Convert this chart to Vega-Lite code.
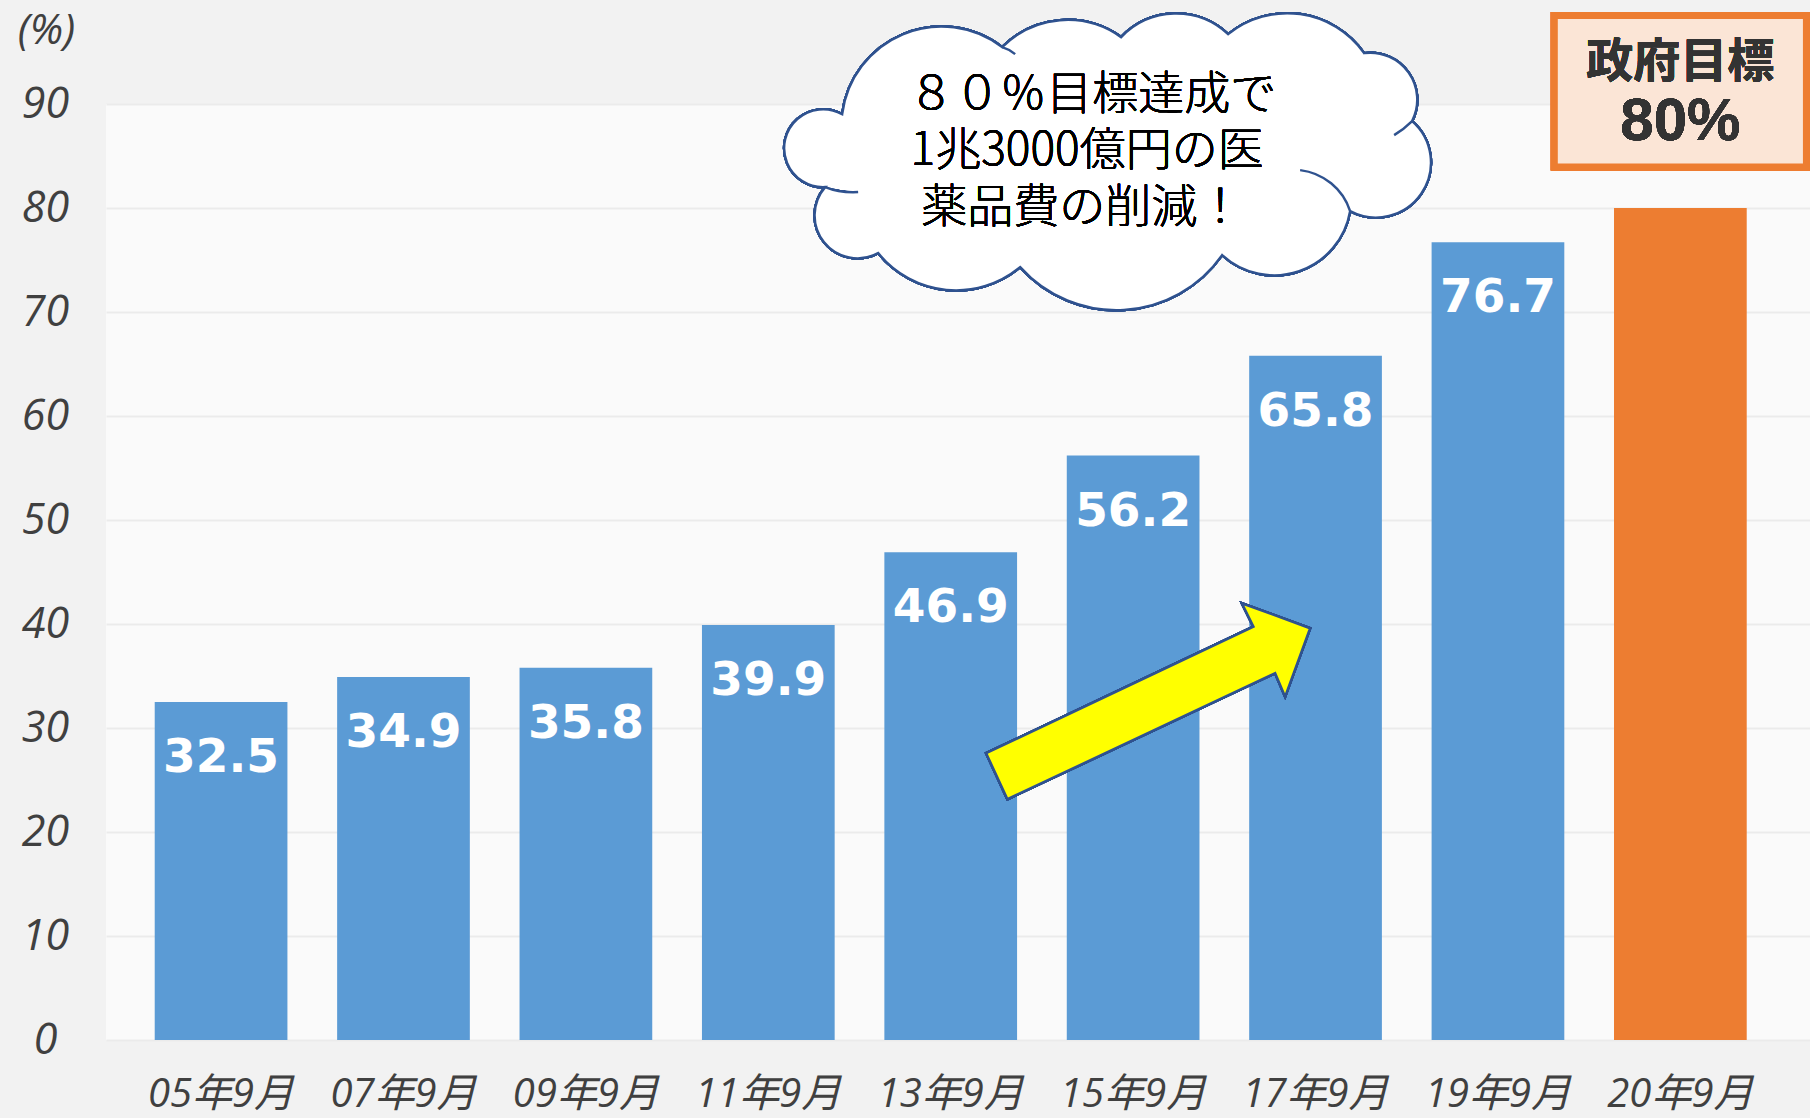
{
  "$schema": "https://vega.github.io/schema/vega-lite/v6.json",
  "width": 1704,
  "height": 936,
  "autosize": {"type": "none"},
  "padding": {"left": 106, "top": 104, "right": 0, "bottom": 78},
  "background": "#F2F2F2",
  "config": {"view": {"stroke": null, "fill": "#FAFAFA"}},
  "data": {
    "values": [
      {"period": "05年9月", "rate": 32.5, "kind": "実績"},
      {"period": "07年9月", "rate": 34.9, "kind": "実績"},
      {"period": "09年9月", "rate": 35.8, "kind": "実績"},
      {"period": "11年9月", "rate": 39.9, "kind": "実績"},
      {"period": "13年9月", "rate": 46.9, "kind": "実績"},
      {"period": "15年9月", "rate": 56.2, "kind": "実績"},
      {"period": "17年9月", "rate": 65.8, "kind": "実績"},
      {"period": "19年9月", "rate": 76.7, "kind": "実績"},
      {"period": "20年9月", "rate": 80, "kind": "目標"}
    ]
  },
  "layer": [
    {
      "mark": {"type": "bar"},
      "encoding": {
        "x": {
          "field": "period", "type": "nominal",
          "scale": {"domain": ["05年9月","07年9月","09年9月","11年9月","13年9月","15年9月","17年9月","19年9月","20年9月"], "paddingInner": 0.2725, "paddingOuter": 0.307, "align": 0.435},
          "axis": {"title": null, "domain": false, "ticks": false, "tickSize": 0, "grid": false, "labelAngle": 0, "labelFont": "Open Sans, Noto Sans CJK JP", "labelFontStyle": "italic", "labelFontSize": 40, "labelColor": "#404040", "labelPadding": 54, "labelBaseline": "middle"}
        },
        "y": {
          "field": "rate", "type": "quantitative",
          "scale": {"domain": [0, 90], "nice": false},
          "axis": {"title": "(%)", "titleAngle": 0, "titleX": -60, "titleY": -74, "titleAlign": "center", "titleBaseline": "middle", "titleFont": "Open Sans", "titleFontStyle": "italic", "titleFontWeight": "normal", "titleFontSize": 42, "titleColor": "#404040", "values": [0,10,20,30,40,50,60,70,80,90], "domain": false, "ticks": false, "tickSize": 0, "labelAlign": "center", "labelPadding": 61, "labelFlush": false, "labelFont": "Open Sans", "labelFontStyle": "italic", "labelFontSize": 43, "labelColor": "#404040", "labelBaseline": "middle", "gridColor": "#EBEBEB", "gridWidth": 2}
        },
        "color": {"field": "kind", "type": "nominal", "scale": {"domain": ["実績", "目標"], "range": ["#5B9BD5", "#ED7D31"]}, "legend": null}
      }
    },
    {
      "transform": [{"filter": "datum.kind == '実績'"}],
      "mark": {"type": "text", "fill": "#FFFFFF", "font": "DejaVu Sans", "fontWeight": "bold", "fontSize": 47, "baseline": "middle", "dy": 56},
      "encoding": {
        "x": {"field": "period", "type": "nominal", "scale": {"domain": ["05年9月","07年9月","09年9月","11年9月","13年9月","15年9月","17年9月","19年9月","20年9月"]}},
        "y": {"field": "rate", "type": "quantitative"},
        "text": {"field": "rate", "type": "quantitative", "format": ".1f"}
      }
    },
    {
      "mark": {"type": "point", "shape": "M -147 53.3 L 120.3 -73.3 L 108.7 -96.7 L 177 -71.7 L 152 -3.3 L 142 -26.7 L -125.7 99.3 Z", "size": 4, "filled": true, "fill": "#FFFF00", "stroke": "#2F528F", "strokeWidth": 2.5, "opacity": 1},
      "encoding": {
        "x": {"datum": "15年9月", "type": "nominal", "scale": {"domain": ["05年9月","07年9月","09年9月","11年9月","13年9月","15年9月","17年9月","19年9月","20年9月"]}},
        "y": {"datum": 32.7, "type": "quantitative"}
      }
    },
    {
      "mark": {"type": "point", "shape": "M -291 -45 A 100 100 0 0 1 -131 -112 A 92 92 0 0 1 -12 -122 A 76 76 0 0 1 95 -125 A 94 94 0 0 1 231 -106 A 47 47 0 0 1 279 -38 A 55 55 0 0 1 217 52 A 77 77 0 0 1 89 96 A 129 129 0 0 1 -113 108 A 100 100 0 0 1 -255 94 A 43 43 0 0 1 -308 28 A 39 39 0 1 1 -291 -45 Z M 167 11 A 60 60 0 0 1 217 52 M -308 28 Q -293 34 -275 33 M -131 -112 Q -124 -110 -118 -105 M 279 -38 Q 271 -30 261 -24", "size": 4, "filled": true, "fill": "#FFFFFF", "stroke": "#2F528F", "strokeWidth": 2.5, "opacity": 1},
      "encoding": {
        "x": {"datum": "15年9月", "type": "nominal", "scale": {"domain": ["05年9月","07年9月","09年9月","11年9月","13年9月","15年9月","17年9月","19年9月","20年9月"]}},
        "y": {"datum": 84.7, "type": "quantitative"}
      }
    },
    {
      "mark": {"type": "text", "text": "８０％目標達成で", "font": "Noto Sans CJK JP", "fontWeight": 300, "fontSize": 46, "fill": "#000000", "align": "center", "baseline": "middle", "dx": -41},
      "encoding": {
        "x": {"datum": "15年9月", "type": "nominal", "scale": {"domain": ["05年9月","07年9月","09年9月","11年9月","13年9月","15年9月","17年9月","19年9月","20年9月"]}},
        "y": {"datum": 90.87, "type": "quantitative"}
      }
    },
    {
      "mark": {"type": "text", "text": "1兆3000億円の医", "font": "Noto Sans CJK JP", "fontWeight": 300, "fontSize": 46, "fill": "#000000", "align": "center", "baseline": "middle", "dx": -46},
      "encoding": {
        "x": {"datum": "15年9月", "type": "nominal", "scale": {"domain": ["05年9月","07年9月","09年9月","11年9月","13年9月","15年9月","17年9月","19年9月","20年9月"]}},
        "y": {"datum": 85.48, "type": "quantitative"}
      }
    },
    {
      "mark": {"type": "text", "text": "薬品費の削減！", "font": "Noto Sans CJK JP", "fontWeight": 300, "fontSize": 46, "fill": "#000000", "align": "center", "baseline": "middle", "dx": -51},
      "encoding": {
        "x": {"datum": "15年9月", "type": "nominal", "scale": {"domain": ["05年9月","07年9月","09年9月","11年9月","13年9月","15年9月","17年9月","19年9月","20年9月"]}},
        "y": {"datum": 80.0, "type": "quantitative"}
      }
    },
    {
      "mark": {"type": "bar", "width": {"band": 1.9}, "fill": "#FBE5D6", "stroke": "#ED7D31", "strokeWidth": 7},
      "encoding": {
        "x": {"datum": "20年9月", "type": "nominal", "scale": {"domain": ["05年9月","07年9月","09年9月","11年9月","13年9月","15年9月","17年9月","19年9月","20年9月"]}},
        "y": {"datum": 98.5, "type": "quantitative"},
        "y2": {"datum": 83.94}
      }
    },
    {
      "mark": {"type": "text", "text": "政府目標", "font": "Noto Sans CJK JP", "fontWeight": "bold", "fontSize": 47, "fill": "#333333", "align": "center", "baseline": "middle"},
      "encoding": {
        "x": {"datum": "20年9月", "type": "nominal", "scale": {"domain": ["05年9月","07年9月","09年9月","11年9月","13年9月","15年9月","17年9月","19年9月","20年9月"]}},
        "y": {"datum": 93.9, "type": "quantitative"}
      }
    },
    {
      "mark": {"type": "text", "text": "80%", "font": "Liberation Sans", "fontWeight": "bold", "fontSize": 60, "fill": "#333333", "align": "center", "baseline": "middle"},
      "encoding": {
        "x": {"datum": "20年9月", "type": "nominal", "scale": {"domain": ["05年9月","07年9月","09年9月","11年9月","13年9月","15年9月","17年9月","19年9月","20年9月"]}},
        "y": {"datum": 88.3, "type": "quantitative"}
      }
    }
  ]
}
